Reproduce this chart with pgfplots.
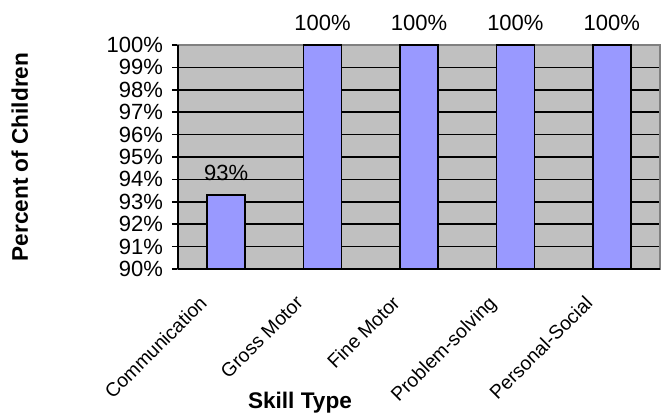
\documentclass[border=0pt]{standalone}
\usepackage{pgfplots}
\pgfplotsset{compat=1.18}
\usepackage{pgfplotstable}
\usepackage{fontspec}
\setmainfont{Liberation Sans}
\definecolor{plotbg}{HTML}{C0C0C0}
\definecolor{barfill}{HTML}{9999FF}
\definecolor{frame}{HTML}{808080}
\pgfplotstableread{
x y lab
0 93.3 93\%
1 100 100\%
2 100 100\%
3 100 100\%
4 100 100\%
}\skilldata
\begin{document}
\begin{tikzpicture}
\path[use as bounding box] (-89pt,-73pt) rectangle (243.5pt,134.5pt);
\begin{axis}[
  at={(0,0)}, anchor=south west,
  scale only axis,
  width=241pt, height=112pt,
  xmin=-0.5, xmax=4.5,
  ymin=90, ymax=100,
  ytick={90,91,...,100},
  yticklabel={\pgfmathprintnumber{\tick}\%},
  /pgf/number format/assume math mode=true,
  xtick={0,1,2,3,4},
  xticklabels={Communication,Gross Motor,Fine Motor,Problem-solving,Personal-Social},
  xtick pos=bottom, ytick pos=left,
  major x tick style={draw=none},
  extra x ticks={-0.5,0.5,1.5,2.5,3.5,4.5},
  extra x tick labels={},
  extra x tick style={major tick length=3pt, tick style={draw=black, line width=0.8pt}, grid=none},
  tick align=outside,
  major tick length=3pt,
  ytick style={draw=black, line width=0.8pt},
  ymajorgrids,
  grid style={black, line width=0.8pt},
  axis background/.style={fill=plotbg},
  axis line style={draw=frame, line width=0.8pt},
  xticklabel style={xshift=-14pt, yshift=-4.75pt, rotate=45, anchor=north east, font=\fontsize{9.7pt}{11pt}\selectfont},
  yticklabel style={font=\fontsize{11pt}{12pt}\selectfont, xshift=-1pt},
  xlabel={\textbf{Skill Type}},
  xlabel style={at={(axis description cs:0.253,-0.598)}, anchor=center, font=\fontsize{11.3pt}{13pt}\selectfont},
  ylabel={\textbf{Percent of Children}},
  ylabel style={at={(axis description cs:-0.328,0.5)}, anchor=center, rotate=0, font=\fontsize{11.3pt}{13pt}\selectfont},
  clip=false,
]
\addplot[ybar, bar width=19pt, fill=barfill, draw=black, line width=0.8pt,
  nodes near coords, point meta=explicit symbolic,
  nodes near coords style={font=\fontsize{11pt}{12pt}\selectfont, anchor=south, yshift=3.5pt}]
  table[x=x, y=y, meta=lab] {\skilldata};
\draw[black, line width=0.8pt] (rel axis cs:0,0) -- (rel axis cs:1,0);
\draw[black, line width=0.8pt] (rel axis cs:0,0) -- (rel axis cs:0,1);
\end{axis}
\end{tikzpicture}
\end{document}
